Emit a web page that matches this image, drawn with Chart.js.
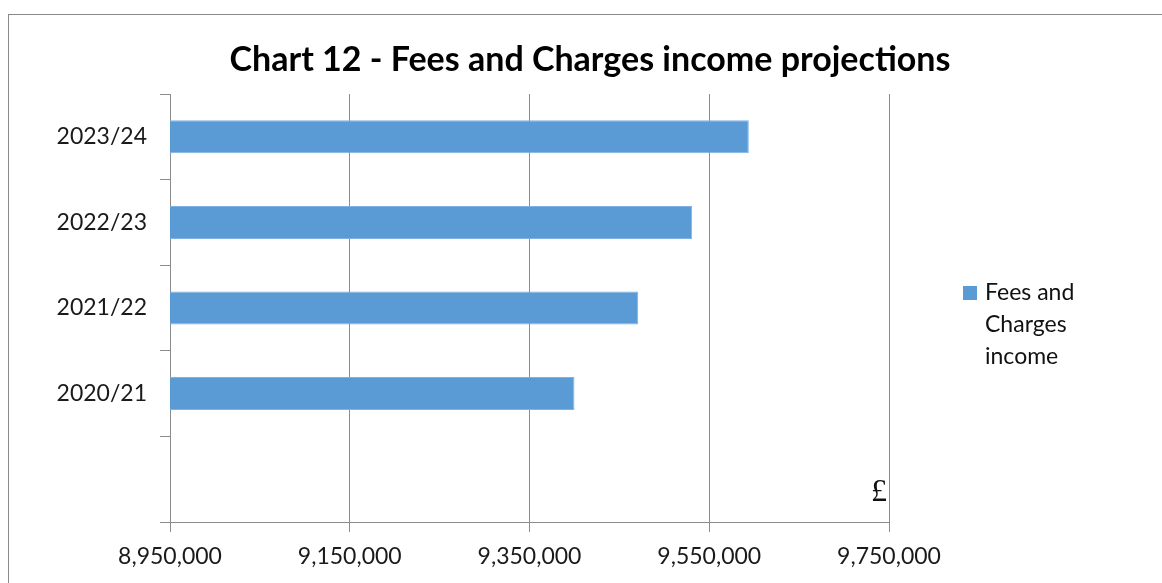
<!DOCTYPE html>
<html>
<head>
<meta charset="utf-8">
<script src="https://cdn.jsdelivr.net/npm/chart.js@4/dist/chart.umd.min.js"></script>
<style>
  html, body { margin: 0; padding: 0; background: #fff; }
  #wrap { width: 1162px; height: 583px; }
</style>
</head>
<body>
<div id="wrap"><canvas id="chart" width="1162" height="583"></canvas></div>
<script>
// data
var years = ['2023/24', '2022/23', '2021/22', '2020/21', ''];
var income = [9594000, 9531000, 9471000, 9400000, null];
var seriesName = ['Fees and', 'Charges', 'income'];
var xMin = 8950000, xMax = 9750000, xStep = 200000;
var titleText = 'Chart 12 - Fees and Charges income projections';

var barBlue = '#5b9bd5';
var gridGray = '#8c8c8c';
var fontName = 'Lato';

// frame, title, legend and the £ note
var extras = {
  id: 'extras',
  beforeDraw: function (chart) {
    var ctx = chart.ctx;
    ctx.save();
    ctx.fillStyle = '#fff';
    ctx.fillRect(0, 0, chart.width, chart.height);
    ctx.strokeStyle = '#8a8a8a';
    ctx.lineWidth = 1;
    ctx.strokeRect(8.5, 14.5, 1300, 700);
    ctx.restore();
  },
  afterDraw: function (chart) {
    var ctx = chart.ctx;
    var area = chart.chartArea;
    ctx.save();
    // title
    ctx.fillStyle = '#000';
    ctx.font = 'bold 34px ' + fontName;
    ctx.textAlign = 'center';
    ctx.textBaseline = 'middle';
    ctx.fillText(titleText, 590, 60);
    // legend
    var ds = chart.data.datasets[0];
    ctx.fillStyle = ds.backgroundColor;
    ctx.fillRect(963, 286, 14, 14);
    ctx.fillStyle = '#111';
    ctx.font = '23px ' + fontName;
    ctx.textBaseline = 'middle';
    ctx.textAlign = 'left';
    for (var i = 0; i < ds.label.length; i++) {
      ctx.fillText(ds.label[i], 985, 293 + i * 32);
    }
    // currency note
    ctx.font = '32px "Liberation Serif"';
    ctx.textAlign = 'right';
    ctx.textBaseline = 'alphabetic';
    ctx.fillText('£', area.right - 2, 501);
    ctx.restore();
  }
};

new Chart(document.getElementById('chart'), {
  type: 'bar',
  data: {
    labels: years,
    datasets: [{
      label: seriesName,
      data: income,
      backgroundColor: barBlue,
      borderColor: '#7fb2e2',
      borderWidth: 1,
      borderSkipped: false,
      barPercentage: 0.386,
      categoryPercentage: 1.0
    }]
  },
  options: {
    indexAxis: 'y',
    responsive: false,
    animation: false,
    layout: { padding: { left: 0, right: 273, top: 94, bottom: 0 } },
    plugins: {
      legend: { display: false },
      tooltip: { enabled: false },
      title: { display: false }
    },
    scales: {
      x: {
        min: xMin,
        max: xMax,
        ticks: {
          stepSize: xStep,
          color: '#1a1a1a',
          padding: 11,
          font: { family: fontName, size: 23 },
          callback: function (v) { return Number(v).toLocaleString('en-US'); }
        },
        grid: { color: gridGray, tickLength: 10, drawTicks: true },
        border: { color: gridGray },
        afterFit: function (scale) { scale.height = 61; }
      },
      y: {
        ticks: {
          color: '#1a1a1a',
          padding: 13,
          font: { family: fontName, size: 23 }
        },
        grid: { color: gridGray, drawOnChartArea: false, tickLength: 10, offset: true },
        border: { color: gridGray },
        afterFit: function (scale) { scale.width = 170; }
      }
    }
  },
  plugins: [extras]
});
</script>
</body>
</html>
